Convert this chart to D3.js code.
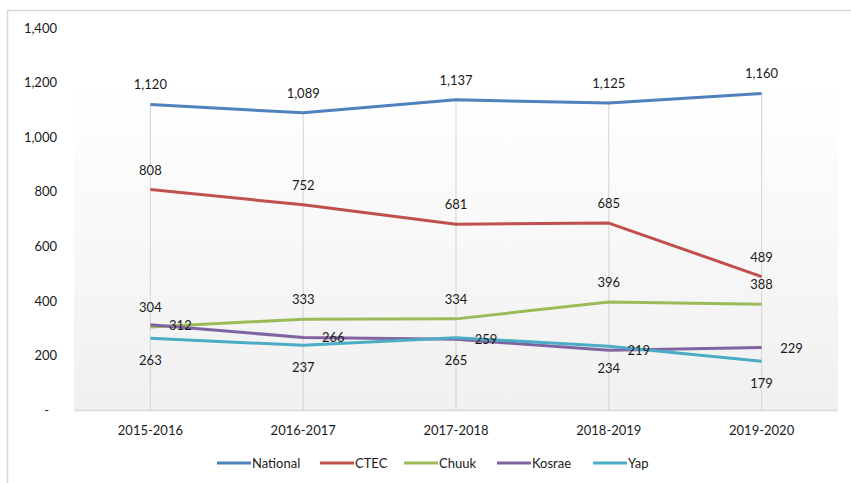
<!DOCTYPE html>
<html><head><meta charset="utf-8">
<script src="https://cdn.jsdelivr.net/npm/d3@7"></script>
<style>body{margin:0;background:#fff}svg{display:block}text{font-family:Lato,"Open Sans",sans-serif;fill:#1a1a1a}</style>
</head><body><svg id="c" width="851" height="483"></svg>
<script>
const categories = ["2015-2016","2016-2017","2017-2018","2018-2019","2019-2020"];
const seriesNames = ["National","CTEC","Chuuk","Kosrae","Yap"];
const national = [1120,1089,1137,1125,1160];
const ctec = [808,752,681,685,489];
const chuuk = [304,333,334,396,388];
const kosrae = [312,266,259,219,229];
const yap = [263,237,265,234,179];
const yTicks = [0,200,400,600,800,1000,1200,1400];
const colors = ["#4f81bd","#c0504d","#9bbb59","#8064a2","#4bacc6"];
const labelPos = ["above","above","above","right","below"];

const series = [national, ctec, chuuk, kosrae, yap].map((v,i)=>({name:seriesNames[i],values:v,color:colors[i],pos:labelPos[i]}));

const svg = d3.select("#c");
const m = {l:74, r:838, t:28, b:410};
const x = d3.scaleBand().domain(categories).range([m.l, m.r]);
const y = d3.scaleLinear().domain([0,1400]).range([m.b, m.t]);
const cx = c => x(c) + x.bandwidth()/2;

// frame
svg.append("path").attr("d","M7.5,483 V10.5 H851").attr("fill","none").attr("stroke","#d9d9d9").attr("stroke-width",1.5);

// gradient
const defs = svg.append("defs");
const g = defs.append("linearGradient").attr("id","bg").attr("x1",0).attr("y1",0).attr("x2",0).attr("y2",1);
g.append("stop").attr("offset","15%").attr("stop-color","#ffffff");
g.append("stop").attr("offset","100%").attr("stop-color","#f0f0f0");
svg.append("rect").attr("x",m.l).attr("y",m.t).attr("width",m.r-m.l).attr("height",m.b-m.t).attr("fill","url(#bg)");

// drop lines
const maxVals = categories.map((c,i)=>d3.max(series, s=>s.values[i]));
svg.append("g").selectAll("line").data(categories).join("line")
  .attr("x1",c=>cx(c)).attr("x2",c=>cx(c))
  .attr("y1",(c,i)=>y(maxVals[i])).attr("y2",m.b)
  .attr("stroke","#d9d9d9").attr("stroke-width",1.2);

// baseline
svg.append("line").attr("x1",m.l).attr("x2",m.r).attr("y1",m.b+0.5).attr("y2",m.b+0.5).attr("stroke","#d9d9d9").attr("stroke-width",1.5);

// y axis
const ya = svg.append("g").attr("transform",`translate(${m.l-17},0)`)
  .call(d3.axisLeft(y).tickValues(yTicks).tickSize(0).tickPadding(0).tickFormat(d=>d===0?"-":d3.format(",")(d)));
ya.select(".domain").remove();
ya.selectAll("text").style("font-size","13px").attr("fill","#1a1a1a").attr("dx",d=>d===0?-8:0);

// x axis
const xa = svg.append("g").attr("transform",`translate(0,${m.b})`)
  .call(d3.axisBottom(x).tickSize(0).tickPadding(16));
xa.select(".domain").remove();
xa.selectAll("text").style("font-size","13px").attr("fill","#1a1a1a");

// lines
const line = d3.line().x((d,i)=>cx(categories[i])).y(d=>y(d));
svg.append("g").selectAll("path").data(series).join("path")
  .attr("d",s=>line(s.values)).attr("fill","none").attr("stroke",s=>s.color).attr("stroke-width",3).attr("stroke-linejoin","round");

// labels
const lg = svg.append("g");
series.forEach(s=>{
  lg.selectAll(null).data(s.values).join("text")
    .attr("x",(d,i)=>cx(categories[i]) + (s.pos==="right"?30:0))
    .attr("y",(d,i)=>y(d) + (s.pos==="above"?-15:s.pos==="below"?27:5))
    .attr("text-anchor","middle")
    .style("font-size","13px")
    .text(d=>d3.format(",")(d));
});

// legend
const legX = [217,320,404,497,593];
const leg = svg.append("g").selectAll("g").data(series).join("g")
  .attr("transform",(s,i)=>`translate(${legX[i]},463)`);
leg.append("line").attr("x1",0).attr("x2",34).attr("y1",0).attr("y2",0).attr("stroke",s=>s.color).attr("stroke-width",3);
leg.append("text").attr("x",35).attr("y",4.5).style("font-size","13px").text(s=>s.name);
</script></body></html>
